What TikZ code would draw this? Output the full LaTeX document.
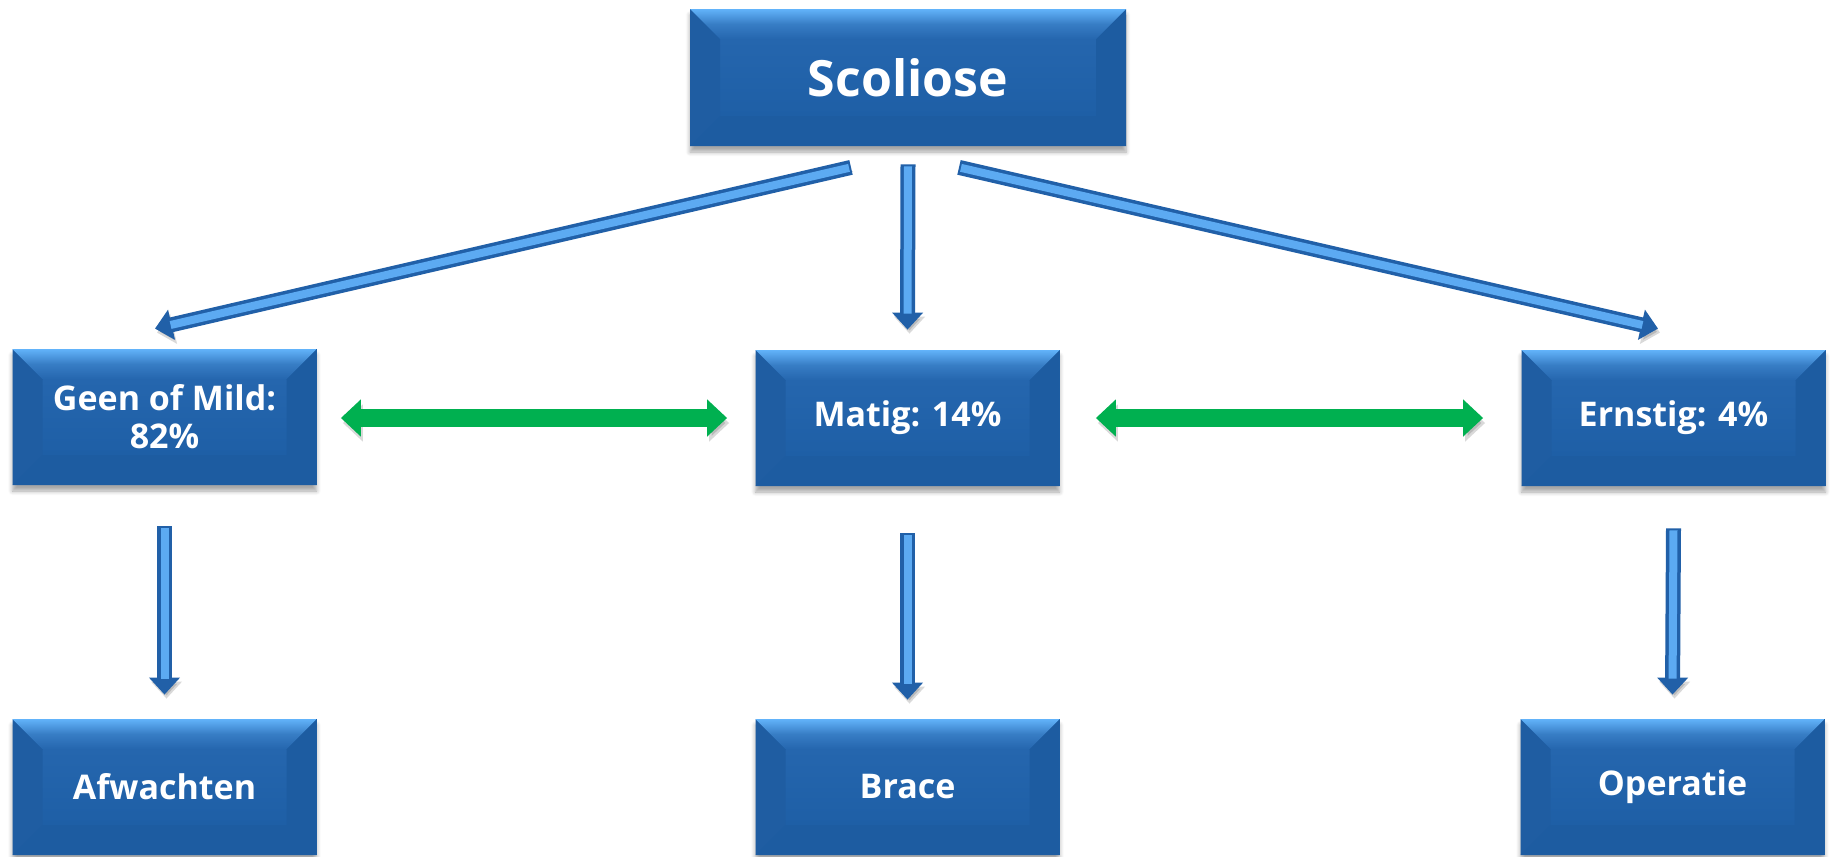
\documentclass[tikz,border=0pt]{standalone}
\usepackage{fontspec}
\setmainfont{Open Sans}
\usepackage{tikz}
\usetikzlibrary{calc}
\usetikzlibrary{arrows.meta}
\usetikzlibrary{shadows.blur}

\definecolor{blokblauw}{HTML}{1E5FA6}
\definecolor{blokvlak}{HTML}{2566AE}
\definecolor{bovenlicht}{HTML}{62B3FA}
\definecolor{randlinks}{HTML}{1F5DA2}
\definecolor{randrechts}{HTML}{1D5CA1}
\definecolor{randonder}{HTML}{1D5CA1}
\definecolor{pijldonker}{HTML}{2160A8}
\definecolor{pijllicht}{HTML}{5CAAF2}
\definecolor{groen}{HTML}{00B050}

\tikzset{
  blok/.style={rectangle, minimum width=152pt, minimum height=68pt, inner sep=0pt,
    align=center, text=white, font=\bfseries\fontsize{17}{19}\selectfont,
    fill=blokblauw,
    blur shadow={shadow xshift=0pt, shadow yshift=-3pt, shadow blur steps=6, shadow opacity=35},
    path picture={
      \coordinate (bnw) at (path picture bounding box.north west);
      \coordinate (bne) at (path picture bounding box.north east);
      \coordinate (bsw) at (path picture bounding box.south west);
      \coordinate (bse) at (path picture bounding box.south east);
      \coordinate (inw) at ($(bnw)+(15pt,-15pt)$);
      \coordinate (ine) at ($(bne)+(-15pt,-15pt)$);
      \coordinate (isw) at ($(bsw)+(15pt,15pt)$);
      \coordinate (ise) at ($(bse)+(-15pt,15pt)$);
      % vlak en randen
      \shade[top color=blokvlak, bottom color=blokblauw] (inw) rectangle (ise);
      \fill[randlinks] (bnw) -- (inw) -- (isw) -- (bsw) -- cycle;
      \fill[randrechts] (bne) -- (ine) -- (ise) -- (bse) -- cycle;
      \fill[randonder] (bsw) -- (isw) -- (ise) -- (bse) -- cycle;
      \shade[top color=bovenlicht, bottom color=blokvlak, middle color=blokvlak!70!bovenlicht]
        (bnw) -- (bne) -- (ine) -- (inw) -- cycle;
    }},
  pijl/.style={draw=pijldonker, line width=7.5pt, -{Triangle[width=15pt, length=8.5pt]},
    preaction={draw=black, opacity=0.15, transform canvas={xshift=1pt, yshift=-2pt}},
    postaction={draw=pijllicht, line width=4pt, -, shorten >=8pt, shorten <=1pt}},
  groenpijl/.style={draw=groen, line width=9pt,
    {Triangle[width=18pt, length=10pt]}-{Triangle[width=18pt, length=10pt]},
    preaction={draw=black, opacity=0.15, transform canvas={xshift=1pt, yshift=-2.5pt}}},
}

\begin{document}
\begin{tikzpicture}[x=0.5pt, y=-0.5pt]
  \useasboundingbox (0,0) rectangle (1833,857);
  % Blokken
  \node[blok, minimum width=218pt, minimum height=68.5pt, font=\bfseries\fontsize{25}{30}\selectfont]
    (scoliose) at (908,77.5) {Scoliose};
  \node[blok] (geen) at (164.5,417) {Geen of Mild:\\82\%};
  \node[blok] (matig) at (907.5,418) {Matig: 14\%};
  \node[blok] (ernstig) at (1673.5,418) {Ernstig: 4\%};
  \node[blok] (afwachten) at (164.5,787) {Afwachten};
  \node[blok] (brace) at (907.5,787) {Brace};
  \node[blok] (operatie) at (1672.5,787) {Operatie};

  % Pijlen
  \draw[pijl] ($(scoliose.south)+(-57,21)$) -- ($(geen.north)+(-9.5,-20)$);
  \draw[pijl] ($(scoliose.south)+(0,18)$) -- ($(matig.north)+(0,-20)$);
  \draw[pijl] ($(scoliose.south)+(51,21)$) -- ($(ernstig.north)+(-15.5,-21)$);
  \draw[groenpijl] ($(geen.east)+(24,1)$) -- ($(matig.west)+(-28,0)$);
  \draw[groenpijl] ($(matig.east)+(36,0)$) -- ($(ernstig.west)+(-38,0)$);
  \draw[pijl] ($(geen.south)+(0,41)$) -- ($(afwachten.north)+(0,-24)$);
  \draw[pijl] ($(matig.south)+(0,47)$) -- ($(brace.north)+(0,-19)$);
  \draw[pijl] ($(ernstig.south)+(0,42)$) -- ($(operatie.north)+(0,-24)$);
\end{tikzpicture}
\end{document}
